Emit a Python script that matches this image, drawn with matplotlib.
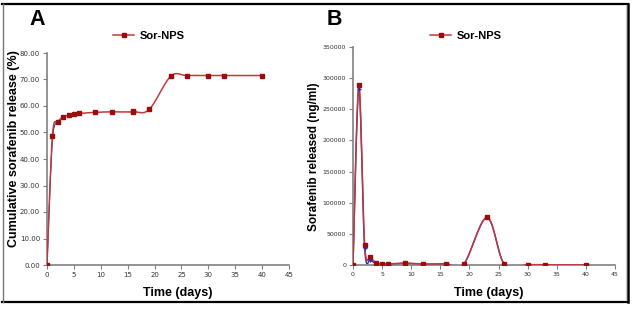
import numpy as np
import matplotlib
matplotlib.use('Agg')
import matplotlib.pyplot as plt
from matplotlib.lines import Line2D

# data
days = [0, 1, 2, 3, 4, 5, 6, 9, 12, 16, 19, 23, 26, 30, 33, 40]
cum_release = [0, 48.5, 53.9, 55.8, 56.5, 56.9, 57.2, 57.6, 57.8, 57.8, 58.7, 71.2, 71.5, 71.5, 71.5, 71.5]
extra_a_day = [16]
extra_a_val = [58.3]

released_red = [0, 288700, 32500, 12800, 3700, 1600, 1600, 3200, 1600, 2000, 1000, 76300, 1000, 500, 500, 0]
released_blue = [0, 283000, 27000, 8500, 3000, 1200, 1200, 2500, 1200, 1500, 800, 76000, 1500, 500, 400, 0]

x_ticks = [0, 5, 10, 15, 20, 25, 30, 35, 40, 45]
y_ticks_a = [0, 10, 20, 30, 40, 50, 60, 70, 80]
y_ticks_b = [0, 50000, 100000, 150000, 200000, 250000, 300000, 350000]

W, H = 634, 310
red_line = '#c0393b'
red_mark = '#9b0d0d'
blue = '#2a2ab8'
spine_col = '#808080'
tick_font = 'Liberation Sans Narrow'


def smooth(x, y, n=30):
    # excel-like smoothed line (catmull-rom bezier)
    p = np.column_stack([x, y]).astype(float)
    out = []
    t = np.linspace(0, 1, n)[:, None]
    for i in range(len(p) - 1):
        p0 = p[i - 1] if i > 0 else p[i]
        p3 = p[i + 2] if i + 2 < len(p) else p[i + 1]
        c1 = p[i] + (p[i + 1] - p0) / 6
        c2 = p[i + 1] - (p3 - p[i]) / 6
        seg = ((1 - t) ** 3) * p[i] + 3 * ((1 - t) ** 2) * t * c1 + 3 * (1 - t) * t ** 2 * c2 + t ** 3 * p[i + 1]
        out.append(seg)
    out = np.vstack(out)
    return out[:, 0], out[:, 1]


def style_axes(ax, yticks, fmt, size):
    for s in ['top', 'right']:
        ax.spines[s].set_visible(False)
    for s in ['left', 'bottom']:
        ax.spines[s].set_color(spine_col)
        ax.spines[s].set_linewidth(1.2)
    ax.set_xlim(0, 45)
    ax.set_xticks(x_ticks)
    ax.set_yticks(yticks)
    ax.set_yticklabels([fmt(v) for v in yticks])
    ax.tick_params(direction='out', length=3, width=0.8, color=spine_col,
                   labelsize=size, pad=2, labelcolor='#333333')
    for lab in ax.get_xticklabels() + ax.get_yticklabels():
        lab.set_family(tick_font)


fig = plt.figure(figsize=(W / 100, H / 100), dpi=100)

# panel A
ax1 = fig.add_axes([47 / W, 45 / H, (289 - 47) / W, (265 - 53) / H])
sx, sy = smooth(days[:3], [0, 47, 53.5])
ax1.plot(sx, sy, color=blue, lw=0.8, zorder=2)
sx, sy = smooth(days, cum_release)
ax1.plot(sx, sy, color=red_line, lw=1.1, zorder=3)
ax1.plot(days, cum_release, 's', color=red_mark, ms=3.2, zorder=4)
ax1.plot(extra_a_day, extra_a_val, 's', color=red_mark, ms=3.2, zorder=4)
ax1.set_ylim(0, 80)
style_axes(ax1, y_ticks_a, lambda v: '%.2f' % v, 5)

# panel B
ax2 = fig.add_axes([353 / W, 45 / H, (615 - 353) / W, (265 - 47) / H])
sx, sy = smooth(days, released_blue)
ax2.plot(sx, sy, color=blue, lw=1.0, zorder=2)
ax2.plot(days[1:4], released_blue[1:4], '+', color=blue, ms=3.5, mew=1, zorder=5)
sx, sy = smooth(days, released_red)
ax2.plot(sx, sy, color=red_line, lw=1.1, zorder=3)
ax2.plot(days, released_red, 's', color=red_mark, ms=3.2, zorder=4)
ax2.set_ylim(0, 350000)
style_axes(ax2, y_ticks_b, lambda v: '%d' % v, 4.5)

# legends
handle = Line2D([], [], color=red_line, lw=1.1, marker='s', mfc=red_mark, mec=red_mark, ms=3.2)
for ax, x0 in [(ax1, 113), (ax2, 430)]:
    ax.legend([handle], ['Sor-NPS'], loc='center left', bbox_to_anchor=(x0 / W, 1 - 36 / H),
              bbox_transform=fig.transFigure, frameon=False, handlelength=1.9,
              handletextpad=0.5, borderpad=0, borderaxespad=0,
              prop={'family': 'Liberation Sans', 'weight': 'bold', 'size': 8})

# labels
bold = dict(family='Liberation Sans', weight='bold')
fig.text(14 / W, 1 - 149 / H, 'Cumulative sorafenib release (%)', rotation=90,
         ha='center', va='center', fontsize=9, **bold)
fig.text(314 / W, 1 - 157 / H, 'Sorafenib released (ng/ml)', rotation=90,
         ha='center', va='center', fontsize=8.5, **bold)
fig.text(178 / W, 1 - 293 / H, 'Time (days)', ha='center', va='center', fontsize=9, **bold)
fig.text(489 / W, 1 - 293 / H, 'Time (days)', ha='center', va='center', fontsize=9, **bold)
fig.text(29 / W, 1 - 25 / H, 'A', ha='left', va='baseline', fontsize=15.5, **bold)
fig.text(327 / W, 1 - 25 / H, 'B', ha='left', va='baseline', fontsize=15.5, **bold)

# outer frame
fig.add_artist(Line2D([2 / W, 628 / W], [1 - 3.5 / H, 1 - 3.5 / H], color='black', lw=1.6))
fig.add_artist(Line2D([2 / W, 628 / W], [1 - 301.5 / H, 1 - 301.5 / H], color='black', lw=1.6))
fig.add_artist(Line2D([628 / W, 628 / W], [1 - 3.5 / H, 1 - 301.5 / H], color='black', lw=1.8))
fig.add_artist(Line2D([625.5 / W, 625.5 / W], [1 - 5 / H, 1 - 300 / H], color='#c8c8c8', lw=0.8))
fig.add_artist(Line2D([2.5 / W, 2.5 / W], [1 - 3.5 / H, 1 - 301.5 / H], color='#777777', lw=1.0))

fig.savefig('out.png', dpi=100)
